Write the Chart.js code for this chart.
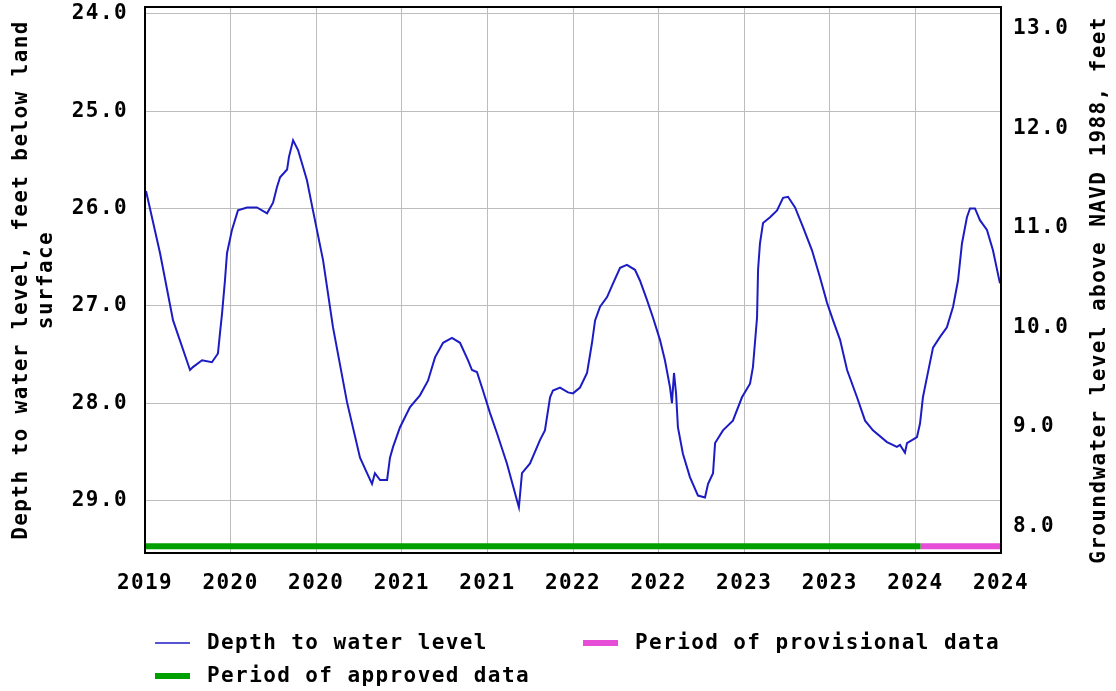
<!DOCTYPE html>
<html>
<head>
<meta charset="utf-8">
<script src="https://cdn.jsdelivr.net/npm/chart.js@4"></script>
<style>
  html, body { margin: 0; padding: 0; background: #fff; }
  #wrap { width: 1116px; height: 691px; position: relative; }
</style>
</head>
<body>
<div id="wrap"><canvas id="chart"></canvas></div>
<script>
// time in decimal years, depth in feet below land surface
const waterYears = [
  2019.756, 2019.838, 2019.914, 2020.013, 2020.030, 2020.083, 2020.141, 2020.176, 2020.188, 2020.200,
  2020.217, 2020.229, 2020.258, 2020.293, 2020.346, 2020.404, 2020.463, 2020.498, 2020.521, 2020.539,
  2020.580, 2020.591, 2020.615, 2020.644, 2020.696, 2020.731, 2020.790, 2020.848, 2020.930, 2021.006,
  2021.047, 2021.076, 2021.093, 2021.123, 2021.164, 2021.181, 2021.199, 2021.239, 2021.298, 2021.356,
  2021.403, 2021.444, 2021.491, 2021.543, 2021.590, 2021.637, 2021.660, 2021.689, 2021.724, 2021.765,
  2021.806, 2021.864, 2021.923, 2021.934, 2021.952, 2021.999, 2022.057, 2022.086, 2022.116, 2022.133,
  2022.174, 2022.221, 2022.250, 2022.291, 2022.332, 2022.361, 2022.379, 2022.408, 2022.449, 2022.484,
  2022.525, 2022.565, 2022.612, 2022.641, 2022.682, 2022.717, 2022.758, 2022.787, 2022.817, 2022.828,
  2022.840, 2022.852, 2022.863, 2022.892, 2022.933, 2022.980, 2023.021, 2023.039, 2023.068, 2023.080,
  2023.126, 2023.184, 2023.237, 2023.284, 2023.301, 2023.325, 2023.331, 2023.342, 2023.360, 2023.401,
  2023.442, 2023.477, 2023.506, 2023.547, 2023.593, 2023.646, 2023.693, 2023.734, 2023.769, 2023.810,
  2023.851, 2023.909, 2023.956, 2024.002, 2024.084, 2024.142, 2024.160, 2024.189, 2024.201, 2024.259,
  2024.277, 2024.294, 2024.318, 2024.353, 2024.394, 2024.434, 2024.470, 2024.499, 2024.522, 2024.551,
  2024.569, 2024.598, 2024.627, 2024.668, 2024.703, 2024.744
];
const waterDepth = [
  25.82, 26.46, 27.15, 27.66, 27.63, 27.56, 27.58, 27.49, 27.28, 27.08,
  26.74, 26.46, 26.22, 26.02, 25.99, 25.99, 26.05, 25.94, 25.78, 25.68,
  25.60, 25.47, 25.30, 25.40, 25.71, 26.02, 26.53, 27.22, 27.99, 28.56,
  28.72, 28.83, 28.72, 28.79, 28.79, 28.56, 28.45, 28.25, 28.04, 27.92,
  27.77, 27.53, 27.38, 27.33, 27.38, 27.56, 27.66, 27.68, 27.87, 28.10,
  28.31, 28.62, 29.00, 29.07, 28.72, 28.62, 28.38, 28.28, 27.94, 27.87,
  27.84, 27.89, 27.90, 27.84, 27.69, 27.38, 27.15, 27.01, 26.91, 26.77,
  26.61, 26.58, 26.63, 26.74, 26.94, 27.12, 27.35, 27.56, 27.84, 28.00,
  27.69, 27.90, 28.25, 28.52, 28.76, 28.95, 28.97, 28.83, 28.72, 28.41,
  28.28, 28.18, 27.94, 27.80, 27.63, 27.12, 26.63, 26.36, 26.15, 26.09,
  26.02, 25.89, 25.88, 25.99, 26.19, 26.43, 26.71, 26.97, 27.15, 27.35,
  27.66, 27.94, 28.18, 28.28, 28.40, 28.45, 28.43, 28.51, 28.41, 28.35,
  28.21, 27.94, 27.73, 27.43, 27.32, 27.22, 27.01, 26.74, 26.36, 26.09,
  26.00, 26.00, 26.12, 26.22, 26.43, 26.77
];

// approval status periods (start, end)
const approvedPeriod = [2019.75, 2024.28];
const provisionalPeriod = [2024.28, 2024.75];
const periodDepth = 29.47;

const xTickValues = [2019.75, 2020.25, 2020.75, 2021.25, 2021.75, 2022.25, 2022.75, 2023.25, 2023.75, 2024.25, 2024.75];
const xTickLabels = ['2019', '2020', '2020', '2021', '2021', '2022', '2022', '2023', '2023', '2024', '2024'];
const depthTicks = [24, 25, 26, 27, 28, 29];
const elevationTicks = [8, 9, 10, 11, 12, 13];
const rightTitle = 'Groundwater level above NAVD 1988, feet';

const FONT = 'DejaVu Sans Mono';
const tickFont = { family: FONT, size: 21, weight: 'bold', lineHeight: 1.2 };

// slightly wider glyphs, like the original bitmap font
const spacingPlugin = {
  id: 'spacing',
  beforeUpdate(chart) { chart.ctx.letterSpacing = '1.4px'; },
  beforeDraw(chart) { chart.ctx.letterSpacing = '1.4px'; }
};

// black frame round the plot + right axis title (reads bottom to top)
const framePlugin = {
  id: 'frame',
  afterDatasetsDraw(chart) {
    const { ctx, chartArea: a } = chart;
    ctx.save();
    ctx.strokeStyle = '#000';
    ctx.lineWidth = 2;
    ctx.strokeRect(a.left, a.top, a.right - a.left, a.bottom - a.top);
    ctx.restore();
  },
  afterDraw(chart) {
    const ctx = chart.ctx;
    ctx.save();
    ctx.letterSpacing = '1.4px';
    ctx.font = 'bold 21px "' + FONT + '"';
    ctx.fillStyle = '#000';
    ctx.textAlign = 'center';
    ctx.textBaseline = 'middle';
    ctx.translate(1100, 290);
    ctx.rotate(-Math.PI / 2);
    ctx.fillText(rightTitle, 0, 0);
    ctx.restore();
  }
};

// two column legend under the chart
const legendPlugin = {
  id: 'customLegend',
  afterDraw(chart) {
    const ctx = chart.ctx;
    const ds = chart.data.datasets;
    const items = [
      { d: ds[0], x: 155, y: 643, line: true },
      { d: ds[2], x: 583, y: 643 },
      { d: ds[1], x: 155, y: 676 }
    ];
    ctx.save();
    ctx.letterSpacing = '1.4px';
    ctx.font = 'bold 21px "' + FONT + '"';
    ctx.textBaseline = 'middle';
    ctx.fillStyle = '#000';
    items.forEach(it => {
      if (it.line) {
        ctx.strokeStyle = it.d.borderColor;
        ctx.lineWidth = 1.5;
        ctx.beginPath();
        ctx.moveTo(it.x, it.y);
        ctx.lineTo(it.x + 35, it.y);
        ctx.stroke();
      } else {
        ctx.fillStyle = it.d.borderColor;
        ctx.fillRect(it.x, it.y - 3, 35, 6);
      }
      ctx.fillStyle = '#000';
      ctx.fillText(it.d.label, it.x + 52, it.y + 1);
    });
    ctx.restore();
  }
};

function fixedWidth(w) {
  return scale => { scale.width = w; scale.paddingTop = 0; scale.paddingBottom = 0; };
}

const ctx = document.getElementById('chart').getContext('2d');
new Chart(ctx, {
  type: 'line',
  data: {
    datasets: [
      {
        label: 'Depth to water level',
        data: waterYears.map((x, i) => ({ x, y: waterDepth[i] })),
        borderColor: '#1c1cc4',
        borderWidth: 2,
        pointRadius: 0,
        tension: 0,
        yAxisID: 'y'
      },
      {
        label: 'Period of approved data',
        data: approvedPeriod.map(x => ({ x, y: periodDepth })),
        borderColor: '#00a000',
        borderWidth: 6,
        borderCapStyle: 'butt',
        pointRadius: 0,
        yAxisID: 'y'
      },
      {
        label: 'Period of provisional data',
        data: provisionalPeriod.map(x => ({ x, y: periodDepth })),
        borderColor: '#e64ed8',
        borderWidth: 6,
        borderCapStyle: 'butt',
        pointRadius: 0,
        yAxisID: 'y'
      }
    ]
  },
  options: {
    responsive: true,
    maintainAspectRatio: false,
    animation: false,
    layout: { padding: { top: 7, left: 0, right: 0, bottom: 0 } },
    plugins: {
      legend: { display: false },
      tooltip: { enabled: false }
    },
    scales: {
      x: {
        type: 'linear',
        min: 2019.75,
        max: 2024.75,
        afterBuildTicks: scale => { scale.ticks = xTickValues.map(value => ({ value })); },
        afterFit: scale => { scale.height = 138; scale.paddingLeft = 0; scale.paddingRight = 0; },
        grid: { color: '#bdbdbd', lineWidth: 1, drawTicks: false },
        border: { display: false },
        ticks: {
          autoSkip: false,
          maxRotation: 0,
          padding: 18,
          color: '#000',
          font: tickFont,
          callback: (value, index) => xTickLabels[index]
        }
      },
      y: {
        type: 'linear',
        position: 'left',
        reverse: true,
        min: 23.93,
        max: 29.54,
        afterBuildTicks: scale => { scale.ticks = depthTicks.map(value => ({ value })); },
        afterFit: fixedWidth(145),
        grid: { color: '#bdbdbd', lineWidth: 1, drawTicks: false },
        border: { display: false },
        ticks: {
          padding: 17,
          color: '#000',
          font: tickFont,
          callback: v => v.toFixed(1)
        },
        title: {
          display: true,
          text: ['Depth to water level, feet below land', 'surface'],
          color: '#000',
          font: tickFont,
          padding: { top: 9, bottom: 0 }
        }
      },
      y1: {
        type: 'linear',
        position: 'right',
        min: 7.73,
        max: 13.22,
        afterBuildTicks: scale => { scale.ticks = elevationTicks.map(value => ({ value })); },
        afterFit: fixedWidth(115),
        grid: { drawOnChartArea: false, drawTicks: false },
        border: { display: false },
        ticks: {
          padding: 12,
          color: '#000',
          font: tickFont,
          callback: v => v.toFixed(1)
        }
      }
    }
  },
  plugins: [spacingPlugin, framePlugin, legendPlugin]
});
</script>
</body>
</html>
